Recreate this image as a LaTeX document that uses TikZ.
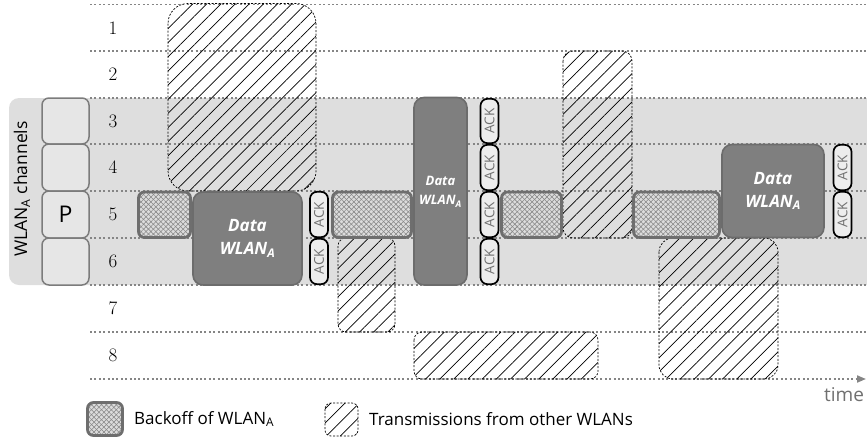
\documentclass[tikz,border=0pt]{standalone}
\usepackage{fontspec}
\newfontfamily\osans{Open Sans}
\usetikzlibrary{patterns.meta,arrows.meta}
\definecolor{band}{HTML}{DEDEDE}
\definecolor{gridc}{HTML}{858585}
\definecolor{chfill}{HTML}{E6E6E6}
\definecolor{chdraw}{HTML}{7C7C7C}
\definecolor{bofill}{HTML}{DCDCDC}
\definecolor{bopat}{HTML}{868686}
\definecolor{bodraw}{HTML}{6E6E6E}
\definecolor{datafill}{HTML}{7F7F7F}
\definecolor{datadraw}{HTML}{6C6C6C}
\definecolor{ackfill}{HTML}{EDEDED}
\definecolor{acktext}{HTML}{707070}
\tikzset{
  gridline/.style={draw=gridc, line width=1.9pt, dash pattern=on 1.9pt off 2.5pt},
  chbox/.style={draw=chdraw, fill=chfill, line width=1.5pt, rounded corners=7pt},
  backoff/.style={draw=bodraw, line width=2.8pt, rounded corners=6pt,
    preaction={fill=bofill},
    preaction={pattern={Lines[angle=45,distance=3.5pt,line width=0.55pt]}, pattern color=bopat},
    preaction={pattern={Lines[angle=-45,distance=3.5pt,line width=0.55pt]}, pattern color=bopat}},
  databox/.style={draw=datadraw, fill=datafill, line width=1.6pt, rounded corners=10pt},
  ackbox/.style={draw=black, fill=ackfill, line width=1.7pt, rounded corners=7pt},
  acklabel/.style={rotate=90, text=acktext, font=\osans\fontsize{13.5}{13.5}\selectfont, inner sep=0pt},
  hatch/.style={draw=black, line width=0.7pt, dash pattern=on 2pt off 1.6pt,
    preaction={pattern={Lines[angle=45,distance=10pt,line width=0.7pt]}, pattern color=black}},
  rownum/.style={font=\fontsize{19}{19}\selectfont, inner sep=0pt},
  datalabel/.style={text=white, align=center, inner sep=0pt},
}
\begin{document}
\begin{tikzpicture}[x=1pt,y=-1pt]
\useasboundingbox (0,0) rectangle (867,437);
% band
\fill[band, rounded corners=10pt] (9,98) rectangle (890,285);
\node[rotate=90, font=\osans\fontsize{17.5}{17.5}\selectfont, inner sep=0pt] (chlabel) at (22,189) {WLAN\textsubscript{A} channels};
% grid lines
\foreach \yy in {4.5,51,98,144,191,238,285,332}
  \draw[gridline] (90,\yy) -- (867,\yy);
\draw[gridline, -{Triangle[length=9pt,width=7pt]}] (90,379) -- (866,379);
\node[text=acktext, font=\osans\fontsize{19}{19}\selectfont, inner sep=0pt] (time) at (844,395) {time};
% channel boxes
\draw[chbox] (42,98) rectangle (89,144);
\draw[chbox] (42,144) rectangle (89,191);
\draw[chbox] (42,191) rectangle (89,238);
\draw[chbox] (42,238) rectangle (89,285);
\node[font=\osans\fontsize{23}{23}\selectfont, inner sep=0pt] (P) at (65.5,214.5) {P};
% row numbers
\foreach \n/\yy in {1/27.75,2/74.5,3/121,4/167.5,5/214.5,6/261.5,7/308.5,8/355.5}
  \node[rownum] (r\n) at (113,\yy) {\n};
% transmissions from other WLANs
\draw[hatch, rounded corners=20pt] (168,3.5) rectangle (316,191);
\draw[hatch, rounded corners=10pt] (563,51) rectangle (632,238);
\draw[hatch, rounded corners=8pt] (338,238) rectangle (395,332);
\draw[hatch, rounded corners=8pt] (414,332) rectangle (598,379);
\draw[hatch, rounded corners=14pt] (659,238) rectangle (778,379);
% backoffs
\draw[backoff] (138.5,192) rectangle (190.5,237.5);
\draw[backoff] (332.5,192) rectangle (411.5,237.5);
\draw[backoff] (501.5,192) rectangle (561.5,237.5);
\draw[backoff] (633.5,192) rectangle (719.5,237.5);
% data
\draw[databox] (193,192) rectangle (302,285);
\node[datalabel, font=\osans\bfseries\itshape\fontsize{17}{23}\selectfont] (d1) at (247.5,238.5) {Data\\WLAN\textsubscript{A}};
\draw[databox] (414,97.5) rectangle (467,285);
\node[datalabel, font=\osans\bfseries\itshape\fontsize{13}{19}\selectfont] (d2) at (440.5,192) {Data\\WLAN\textsubscript{A}};
\draw[databox] (722,144.5) rectangle (824,237.5);
\node[datalabel, font=\osans\bfseries\itshape\fontsize{17}{23}\selectfont] (d3) at (773,191) {Data\\WLAN\textsubscript{A}};
% ACKs
\foreach \x/\a/\b in {310/191/238, 310/238/285, 480.5/98/144, 480.5/144/191, 480.5/191/238, 480.5/238/285, 833.5/144/191, 833.5/191/238} {
  \draw[ackbox] (\x,\a+0.8) rectangle (\x+18,\b-0.8);
  \node[acklabel] at (\x+9,{(\a+\b)/2}) {ACK};
}
% legend
\draw[backoff] (87.5,402.5) rectangle (122.5,435.5);
\node[anchor=west, font=\osans\fontsize{17}{17}\selectfont, inner sep=0pt] (lb) at (134,419) {Backoff of WLAN\textsubscript{A}};
\draw[hatch, rounded corners=6pt] (325,403) rectangle (358,436);
\node[anchor=west, font=\osans\fontsize{17}{17}\selectfont, inner sep=0pt] (lt) at (369,419) {Transmissions from other WLANs};
\end{tikzpicture}
\end{document}
